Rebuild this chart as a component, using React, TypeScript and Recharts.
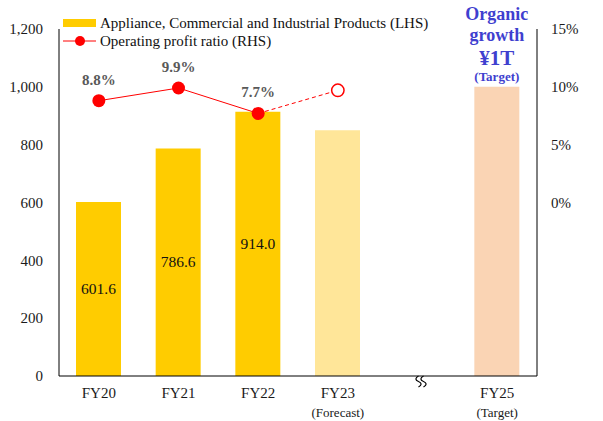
import React from 'react';
import { ComposedChart, Bar, Line, XAxis, YAxis, Cell, LabelList } from 'recharts';

const categories = ['FY20', 'FY21', 'FY22', 'FY23', '', 'FY25'];
const subLabels = ['', '', '', '(Forecast)', '', '(Target)'];
const sales = [601.6, 786.6, 914.0, 850, null, 1000];
const profitRatio = [8.8, 9.9, 7.7, null, null, null];
const forecastRatio = [null, null, 7.7, 9.7, null, null];
const barColors = ['#FFCC00', '#FFCC00', '#FFCC00', '#FFE699', '#FFFFFF', '#FAD4B4'];
const leftTicks = [0, 200, 400, 600, 800, 1000, 1200];
const rightTicks = [0, 5, 10, 15];
const targetLines = ['Organic', 'growth', '¥1T', '(Target)'];

const data = categories.map((c, i) => ({
  name: c,
  sub: subLabels[i],
  sales: sales[i],
  ratio: profitRatio[i],
  forecast: forecastRatio[i],
}));

const FONT = '"Liberation Serif", "Times New Roman", serif';
const RED = '#FF0000';
const BLUE = '#3F3FCF';

const XTick = (props: any) => {
  const { x, y, index } = props;
  const name = categories[index];
  const sub = subLabels[index];
  if (name === '') {
    const bx = Number(x) + 3;
    const by = Number(y);
    return (
      <g stroke="#000" strokeWidth={1.2} fill="none">
        <path d={`M ${bx - 2} ${by} c -3.5 2, -3.5 4, 0 5.5 c 3.5 1.5, 3.5 3.5, 0 5.5`} />
        <path d={`M ${bx + 3} ${by} c -3.5 2, -3.5 4, 0 5.5 c 3.5 1.5, 3.5 3.5, 0 5.5`} />
      </g>
    );
  }
  return (
    <g>
      <text x={x} y={y + 22} textAnchor="middle" fontFamily={FONT} fontSize={15} fill="#1a1a1a">
        {name}
      </text>
      {sub ? (
        <text x={x} y={y + 41} textAnchor="middle" fontFamily={FONT} fontSize={13} fill="#1a1a1a">
          {sub}
        </text>
      ) : null}
    </g>
  );
};

const BarLabel = (props: any) => {
  const { x, y, width, height, index, value } = props;
  const cx = Number(x) + Number(width) / 2;
  const top = Number(y);
  if (value === sales[5]) {
    return (
      <g fontFamily={FONT} fontWeight="bold" fill={BLUE} textAnchor="middle">
        <text x={cx} y={top - 66.5} fontSize={18} textAnchor="middle">{targetLines[0]}</text>
        <text x={cx} y={top - 46} fontSize={18} textAnchor="middle">{targetLines[1]}</text>
        <text x={cx} y={top - 22} fontSize={21} textAnchor="middle">{targetLines[2]}</text>
        <text x={cx} y={top - 6} fontSize={13} textAnchor="middle">{targetLines[3]}</text>
      </g>
    );
  }
  if (index > 2 || value == null) return <g />;
  return (
    <text
      x={cx}
      y={top + Number(height) / 2 + 5}
      textAnchor="middle"
      fontFamily={FONT}
      fontSize={15.5}
      fill="#111"
    >
      {Number(value).toFixed(1)}
    </text>
  );
};

const RatioLabel = (props: any) => {
  const { x, y, value } = props;
  if (value == null) return <g />;
  return (
    <text
      x={x}
      y={Number(y) - 16}
      textAnchor="middle"
      fontFamily={FONT}
      fontSize={15}
      fontWeight="bold"
      fill="#595959"
    >
      {`${Number(value).toFixed(1)}%`}
    </text>
  );
};

const ForecastDot = (props: any) => {
  const { cx, cy, index } = props;
  if (index !== 3 || cx == null || cy == null) return <g key={`fd-${index}`} />;
  return <circle key={`fd-${index}`} cx={cx} cy={cy} r={6.2} fill="#fff" stroke={RED} strokeWidth={1.5} />;
};

const Legend = () => (
  <div
    style={{
      position: 'absolute',
      left: 63,
      top: 14,
      fontFamily: FONT,
      fontSize: 15,
      color: '#111',
      lineHeight: '18px',
    }}
  >
    <div style={{ display: 'flex', alignItems: 'center', height: 18 }}>
      <div style={{ width: 33, height: 8, background: '#FFCC00', marginRight: 4 }} />
      <span>Appliance, Commercial and Industrial Products (LHS)</span>
    </div>
    <div style={{ display: 'flex', alignItems: 'center', height: 18 }}>
      <svg width={33} height={14} style={{ marginRight: 4 }}>
        <line x1={0} y1={7} x2={33} y2={7} stroke={RED} strokeWidth={1} />
        <circle cx={17} cy={7} r={5} fill={RED} />
      </svg>
      <span>Operating profit ratio (RHS)</span>
    </div>
  </div>
);

export default function App() {
  return (
    <div style={{ position: 'absolute', left: 0, top: 0, width: 603, height: 421, background: '#fff' }}>
      <ComposedChart
        width={603}
        height={421}
        data={data}
        margin={{ top: 29, right: 0, bottom: 0, left: 0 }}
      >
        <XAxis
          dataKey="name"
          height={45}
          axisLine={{ stroke: '#000', strokeWidth: 1 }}
          tickLine={false}
          tickSize={0}
          tickMargin={0}
          interval={0}
          tick={<XTick />}
        />
        <YAxis
          yAxisId="left"
          orientation="left"
          width={59}
          domain={[0, 1200]}
          ticks={leftTicks}
          interval={0}
          axisLine={{ stroke: '#000', strokeWidth: 1 }}
          tickLine={false}
          tickSize={0}
          tickMargin={16}
          tick={{ fontFamily: FONT, fontSize: 15, fill: '#1a1a1a' }}
          tickFormatter={(v: number) => v.toLocaleString('en-US')}
        />
        <YAxis
          yAxisId="right"
          orientation="right"
          width={66}
          domain={[-15, 15]}
          ticks={rightTicks}
          interval={0}
          axisLine={{ stroke: '#000', strokeWidth: 1 }}
          tickLine={false}
          tickSize={0}
          tickMargin={14}
          tick={{ fontFamily: FONT, fontSize: 15, fill: '#1a1a1a', textAnchor: 'start' }}
          tickFormatter={(v: number) => `${v}%`}
        />
        <Bar yAxisId="left" dataKey="sales" barSize={45} isAnimationActive={false}>
          {data.map((d, i) => (
            <Cell key={d.name + i} fill={barColors[i]} />
          ))}
          <LabelList dataKey="sales" content={<BarLabel />} />
        </Bar>
        <Line
          yAxisId="right"
          dataKey="forecast"
          stroke={RED}
          strokeWidth={1}
          strokeDasharray="4 3"
          dot={<ForecastDot />}
          activeDot={false}
          isAnimationActive={false}
        />
        <Line
          yAxisId="right"
          dataKey="ratio"
          stroke={RED}
          strokeWidth={1}
          dot={{ r: 6.5, fill: RED, stroke: RED, strokeWidth: 0 }}
          activeDot={false}
          isAnimationActive={false}
        >
          <LabelList dataKey="ratio" content={<RatioLabel />} />
        </Line>
      </ComposedChart>
      <Legend />
    </div>
  );
}
